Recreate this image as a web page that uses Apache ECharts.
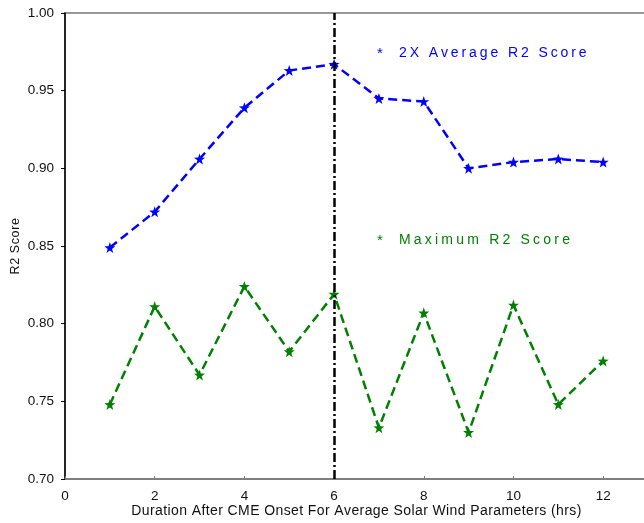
<!DOCTYPE html>
<html>
<head>
<meta charset="utf-8">
<script src="https://cdn.jsdelivr.net/npm/echarts@6/dist/echarts.min.js"></script>
<style>
  html, body { margin: 0; padding: 0; background: #ffffff; }
  #chart { width: 644px; height: 523px; }
</style>
</head>
<body>
<div id="chart"></div>
<script>
// Averaging window after CME onset (hours)
const hours = [1, 2, 3, 4, 5, 6, 7, 8, 9, 10, 11, 12];
// 2X average R2 score per window
const avgScore = [0.849, 0.872, 0.906, 0.939, 0.963, 0.967, 0.945, 0.943, 0.900, 0.904, 0.906, 0.904];
// Maximum R2 score per window
const maxScore = [0.748, 0.811, 0.767, 0.824, 0.782, 0.819, 0.733, 0.807, 0.730, 0.812, 0.748, 0.776];
// Labelled x ticks
const xTicks = [0, 2, 4, 6, 8, 10, 12];
// Selected window marked with a vertical line
const bestHour = 6;

const avgLabel = '2X Average R2 Score';
const maxLabel = 'Maximum R2 Score';
const xTitle = 'Duration After CME Onset For Average Solar Wind Parameters (hrs)';
const yTitle = 'R2 Score';

const FONT = '"Liberation Sans", Arial, sans-serif';
const STAR = 'path://M0,-10 L2.35,-3.24 L9.51,-3.09 L3.8,1.24 L5.88,8.09 L0,4 L-5.88,8.09 L-3.8,1.24 L-9.51,-3.09 L-2.35,-3.24 Z';

// letter spacing: each character becomes a rich-text token with right padding
const tracked = (s, style) => s.split('').map(ch => '{' + style + '|' + ch + '}').join('');
const trackStyle = (size, gap, color) => ({ fontSize: size, fontFamily: FONT, color: color, fill: color, padding: [0, gap, 0, 0] });

const chart = echarts.init(document.getElementById('chart'), null, { renderer: 'canvas' });

chart.setOption({
  animation: false,
  backgroundColor: '#ffffff',
  textStyle: { fontFamily: FONT },
  grid: {
    left: 65, top: 13, width: 583, height: 466,
    outerBoundsMode: 'none',
    show: true, borderColor: '#777777', borderWidth: 1.5, backgroundColor: 'transparent'
  },
  xAxis: {
    type: 'value', min: 0, max: 13,
    name: tracked(xTitle, 't'),
    nameLocation: 'middle', nameGap: 25, nameMoveOverlap: false,
    nameTextStyle: { fontSize: 14, color: '#111111', fontFamily: FONT, rich: { t: trackStyle(14, 0.4, '#111111') } },
    axisLine: { show: true, onZero: false, lineStyle: { color: '#777777', width: 1.5 } },
    axisTick: { show: true, inside: true, length: 3, customValues: xTicks, lineStyle: { color: '#777777', width: 1 } },
    axisLabel: { customValues: xTicks, fontSize: 13.5, color: '#111111', margin: 10, fontFamily: FONT },
    splitLine: { show: false }
  },
  yAxis: {
    type: 'value', min: 0.70, max: 1.00, interval: 0.05,
    name: tracked(yTitle, 't'), nameLocation: 'middle', nameGap: 43, nameRotate: 90, nameMoveOverlap: false,
    nameTextStyle: { fontSize: 12.5, color: '#111111', fontFamily: FONT, rich: { t: trackStyle(12.5, 0.6, '#111111') } },
    axisLine: { show: true, onZero: false, lineStyle: { color: '#000000', width: 1.5 } },
    axisTick: { show: true, inside: false, length: 4, lineStyle: { color: '#000000', width: 1 } },
    axisLabel: { fontSize: 13.5, color: '#111111', margin: 11, fontFamily: FONT, formatter: v => v.toFixed(2) },
    splitLine: { show: false }
  },
  series: [
    {
      name: avgLabel, type: 'line',
      data: hours.map((h, i) => [h, avgScore[i]]),
      symbol: STAR, symbolSize: 11, showSymbol: true,
      itemStyle: { color: '#0000ff' },
      lineStyle: { color: '#0000ff', width: 2.5, type: [9, 5] },
      z: 3,
      markLine: {
        silent: true, symbol: ['none', 'none'],
        label: { show: false },
        lineStyle: { color: '#000000', width: 2.5, type: [9, 3, 2, 3] },
        data: [{ xAxis: bestHour }]
      }
    },
    {
      name: maxLabel, type: 'line',
      data: hours.map((h, i) => [h, maxScore[i]]),
      symbol: STAR, symbolSize: 11, showSymbol: true,
      itemStyle: { color: '#008000' },
      lineStyle: { color: '#008000', width: 2.5, type: [9, 5] },
      z: 3
    }
  ],
  graphic: [
    { type: 'text', left: 377, top: 46, style: { text: '*', fill: '#0000ff', font: '15px ' + FONT } },
    { type: 'text', left: 399, top: 46, style: { text: tracked(avgLabel, 'b'), fill: '#0000ff', rich: { b: trackStyle(14, 2.9, '#0000ff') } } },
    { type: 'text', left: 377, top: 233, style: { text: '*', fill: '#008000', font: '15px ' + FONT } },
    { type: 'text', left: 399, top: 233, style: { text: tracked(maxLabel, 'g'), fill: '#008000', rich: { g: trackStyle(14, 3.2, '#008000') } } }
  ]
});
</script>
</body>
</html>
